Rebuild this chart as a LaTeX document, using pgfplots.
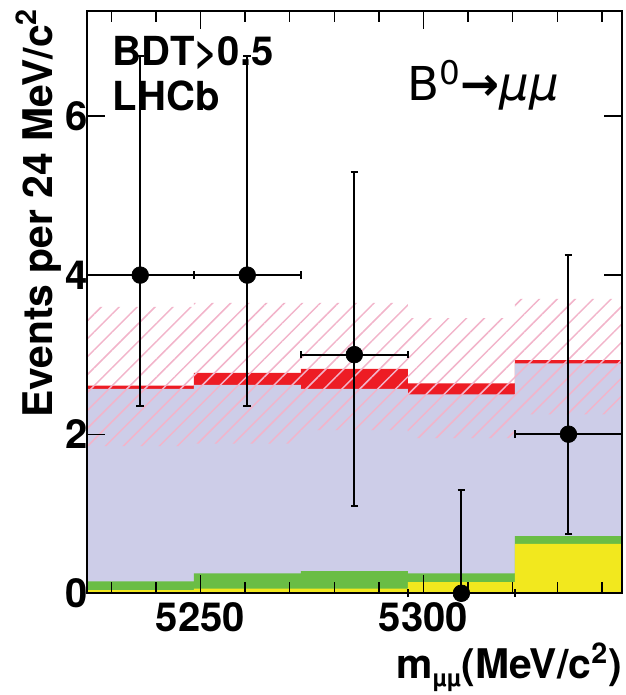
\documentclass[border=0pt]{standalone}
\usepackage{fontspec}
\setmainfont{TeX Gyre Heros}
\newfontfamily\dejavu{DejaVu Sans}
\usepackage{pgfplots}
\usepackage{pgfplotstable}
\pgfplotsset{compat=1.18}
\usepgfplotslibrary{fillbetween}
\usetikzlibrary{patterns.meta}

\definecolor{lav}{RGB}{205,205,232}
\definecolor{grn}{RGB}{106,189,69}
\definecolor{yel}{RGB}{242,232,30}
\definecolor{rbnd}{RGB}{237,28,36}
\definecolor{hpink}{RGB}{242,180,202}

% bin edges and stacked (cumulative) heights
\pgfplotstableread{
edge yel grn lav red lo hi
5224.5 0.04 0.15 2.57 2.61 1.85 3.60
5248.5 0.06 0.25 2.62 2.77 1.88 3.65
5272.5 0.06 0.28 2.57 2.82 2.05 3.65
5296.5 0.14 0.25 2.50 2.64 1.95 3.46
5320.5 0.62 0.72 2.89 2.93 2.25 3.70
5344.5 0.62 0.72 2.89 2.93 2.25 3.70
}\hist

% data points with asymmetric errors
\pgfplotstableread{
x y eym eyp ex
5236.5 4 1.65 2.75 12
5260.5 4 1.65 2.75 12
5284.5 3 1.90 2.30 12
5308.5 0 0.00 1.30 12
5332.5 2 1.25 2.25 12
}\pts

\newcommand{\tfont}{\fontsize{24}{28}\selectfont\bfseries}

\begin{document}
\begin{tikzpicture}
\begin{axis}[
  name=ax, at={(0,0)}, anchor=south west,
  scale only axis, width=321pt, height=349.2pt,
  xmin=5224.5, xmax=5344.5, ymin=0, ymax=7.32,
  xtick={5250,5300},
  minor xtick={5230,5240,5260,5270,5280,5290,5310,5320,5330,5340},
  ytick={0,2,4,6},
  tick align=inside,
  major tick length=10.8pt, minor tick length=6.6pt,
  axis line style={line width=1.2pt},
  tick style={black, line width=0.8pt},
  tick label style={font=\tfont},
  /pgf/number format/assume math mode=true,
  /pgf/number format/1000 sep={},
  xticklabel style={yshift=-2pt},
  yticklabel style={xshift=4pt},
  axis on top, clip=false,
]
% red band (signal) drawn first, then stacked backgrounds over it
\addplot[const plot, fill=rbnd, draw=none] table[x=edge, y=red] {\hist} \closedcycle;
\addplot[const plot, fill=lav, draw=none] table[x=edge, y=lav] {\hist} \closedcycle;
\addplot[const plot, fill=grn, draw=none] table[x=edge, y=grn] {\hist} \closedcycle;
\addplot[const plot, fill=yel, draw=none] table[x=edge, y=yel] {\hist} \closedcycle;
% hatched uncertainty band
\addplot[const plot, draw=none, name path=hlo] table[x=edge, y=lo] {\hist};
\addplot[const plot, draw=none, name path=hhi] table[x=edge, y=hi] {\hist};
\addplot[draw=none, pattern={Lines[angle=45, distance=7.6pt, line width=0.9pt]}, pattern color=hpink] fill between[of=hlo and hhi, on layer=main];
% data
\addplot[only marks, mark=*, mark size=5pt, black,
  error bars/.cd, y dir=both, y explicit, x dir=both, x explicit,
  error bar style={line width=1.2pt, black},
  error mark=-,
  error mark options={rotate=90, black, mark size=2.3pt, line width=1.2pt}]
  table[x=x, y=y, y error plus=eyp, y error minus=eym, x error=ex] {\pts};
\end{axis}
\node[anchor=base west, font=\tfont] at ([xshift=12.2pt, yshift=-32.4pt]ax.north west) {BDT>0.5};
\node[anchor=base west, font=\tfont] at ([xshift=12.2pt, yshift=-59.4pt]ax.north west) {LHCb};
\node[anchor=base west, font=\fontsize{28}{32}\selectfont\dejavu, inner sep=0pt] at ([xshift=192pt, yshift=-53.4pt]ax.north west) {B\textsuperscript{0}{\bfseries →}\textit{μμ}};
\node[rotate=90, anchor=base east, font=\fontsize{24.5}{28}\selectfont\bfseries, inner sep=0pt] at ([xshift=-20.8pt, yshift=1.8pt]ax.north west) {Events per 24 MeV/c\textsuperscript{2}};
\node[anchor=base east, font=\fontsize{24.5}{28}\selectfont\bfseries, inner sep=0pt] at ([yshift=-51pt]ax.south east) {m\raisebox{-0.2em}{\fontsize{14}{14}\selectfont µµ}(MeV/c\textsuperscript{2})};
\pgfresetboundingbox
\useasboundingbox (-52pt,-61pt) rectangle (323pt,355.8pt);
\end{tikzpicture}
\end{document}
